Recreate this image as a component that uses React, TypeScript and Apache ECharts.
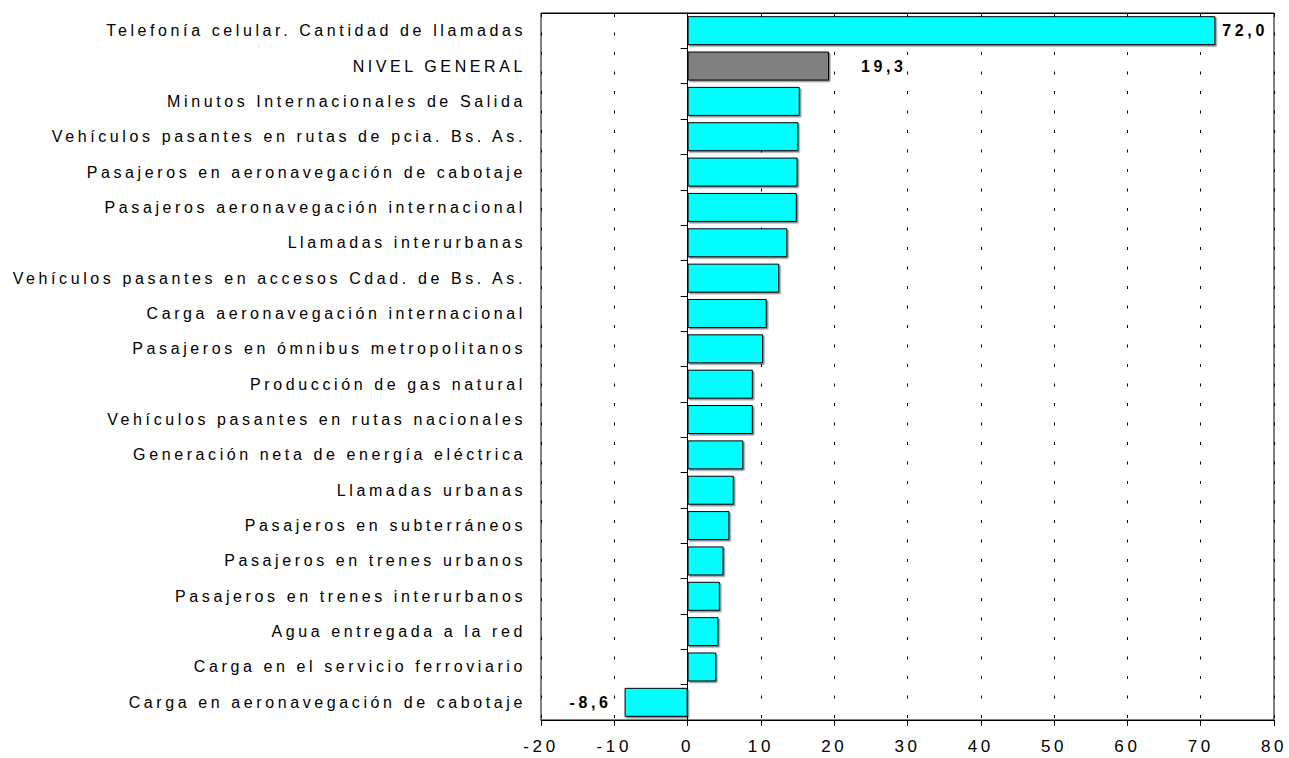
import React, { useEffect, useRef } from "react";
import * as echarts from "echarts";

const categories: string[] = [
  "Telefonía celular. Cantidad de llamadas",
  "NIVEL GENERAL",
  "Minutos Internacionales de Salida",
  "Vehículos pasantes en rutas de pcia. Bs. As.",
  "Pasajeros en aeronavegación de cabotaje",
  "Pasajeros aeronavegación internacional",
  "Llamadas interurbanas",
  "Vehículos pasantes en accesos Cdad. de Bs. As.",
  "Carga aeronavegación internacional",
  "Pasajeros en ómnibus metropolitanos",
  "Producción de gas natural",
  "Vehículos pasantes en rutas nacionales",
  "Generación neta de energía eléctrica",
  "Llamadas urbanas",
  "Pasajeros en subterráneos",
  "Pasajeros en trenes urbanos",
  "Pasajeros en trenes interurbanos",
  "Agua entregada a la red",
  "Carga en el servicio ferroviario",
  "Carga en aeronavegación de cabotaje",
];

const values: number[] = [
  72.0, 19.3, 15.3, 15.1, 15.0, 14.9, 13.6, 12.5, 10.8, 10.3, 8.9, 8.9, 7.6,
  6.3, 5.7, 4.9, 4.4, 4.2, 3.9, -8.6,
];

// categories whose value is printed, with label placement
const labelled: Record<string, { position: string; distance: number }> = {
  "Telefonía celular. Cantidad de llamadas": { position: "right", distance: 7 },
  "NIVEL GENERAL": { position: "right", distance: 32 },
  "Carga en aeronavegación de cabotaje": { position: "left", distance: 13 },
};
const highlighted = "NIVEL GENERAL";

const xTicks = { min: -20, max: 80, interval: 10 };

const FONT = "'Liberation Sans', Arial, sans-serif";

export default function App() {
  const ref = useRef<HTMLDivElement>(null);

  useEffect(() => {
    if (!ref.current) return;
    const chart = echarts.init(ref.current, undefined, { renderer: "svg" });
    const fmt = (v: number) => v.toFixed(1).replace(".", ",");
    const data = values.map((v, i) => {
      const cat = categories[i];
      const item: any = { value: v };
      if (cat === highlighted) {
        item.itemStyle = { color: "#808080" };
      }
      const lab = labelled[cat];
      if (lab) {
        item.label = {
          show: true,
          position: lab.position,
          distance: lab.distance,
          formatter: (p: any) => fmt(p.value),
          color: "#000",
          fontWeight: "bold",
          fontSize: 16,
          fontFamily: FONT,
        };
      }
      return item;
    });

    chart.setOption({
      animation: false,
      backgroundColor: "#ffffff",
      textStyle: { fontFamily: FONT },
      grid: {
        left: 541,
        right: 15,
        top: 13,
        bottom: 38,
        show: true,
        borderColor: "#000",
        borderWidth: 1,
        backgroundColor: "transparent",
      },
      xAxis: [
        {
          type: "value",
          position: "bottom",
          min: xTicks.min,
          max: xTicks.max,
          interval: xTicks.interval,
          axisLine: { show: true, onZero: false, lineStyle: { color: "#000", width: 1 } },
          axisTick: { show: true, length: 6, lineStyle: { color: "#000" } },
          axisLabel: {
            color: "#000",
            fontSize: 17,
            margin: 18,
            fontFamily: FONT,
          },
          splitLine: {
            show: true,
            lineStyle: { color: "#000", width: 1, type: [3, 16.5] },
          },
        },
        {
          type: "value",
          position: "top",
          min: xTicks.min,
          max: xTicks.max,
          interval: xTicks.interval,
          axisLine: { show: true, onZero: false, lineStyle: { color: "#000" } },
          axisTick: { show: true, inside: true, length: 4, lineStyle: { color: "#000" } },
          axisLabel: { show: false },
          splitLine: { show: false },
        },
      ],
      yAxis: [
        {
          type: "category",
          data: categories,
          inverse: true,
          position: "left",
          axisLine: { show: false, onZero: false },
          axisTick: { show: false },
          axisLabel: {
            color: "#000",
            fontSize: 16,
            margin: 15,
            fontFamily: FONT,
          },
          splitLine: { show: false },
        },
        {
          type: "category",
          data: categories,
          inverse: true,
          position: "left",
          axisLine: { show: true, onZero: true, lineStyle: { color: "#000", width: 1 } },
          axisTick: { show: true, length: 7, lineStyle: { color: "#000" } },
          axisLabel: { show: false },
          splitLine: { show: false },
        },
      ],
      series: [
        {
          type: "bar",
          xAxisIndex: 0,
          yAxisIndex: 0,
          data,
          barWidth: "82%",
          itemStyle: {
            color: "#00FFFF",
            borderColor: "#000",
            borderWidth: 1,
            shadowColor: "rgba(0,0,0,0.45)",
            shadowBlur: 1,
            shadowOffsetX: 1.5,
            shadowOffsetY: 1.5,
          },
          label: { show: false },
          z: 3,
        },
      ],
    });

    return () => chart.dispose();
  }, []);

  return (
    <>
      <style>{`.chartbox text { letter-spacing: 3.6px; }`}</style>
      <div
        ref={ref}
        className="chartbox"
        style={{ position: "fixed", left: 0, top: 0, width: 1289, height: 758, background: "#fff" }}
      />
    </>
  );
}
